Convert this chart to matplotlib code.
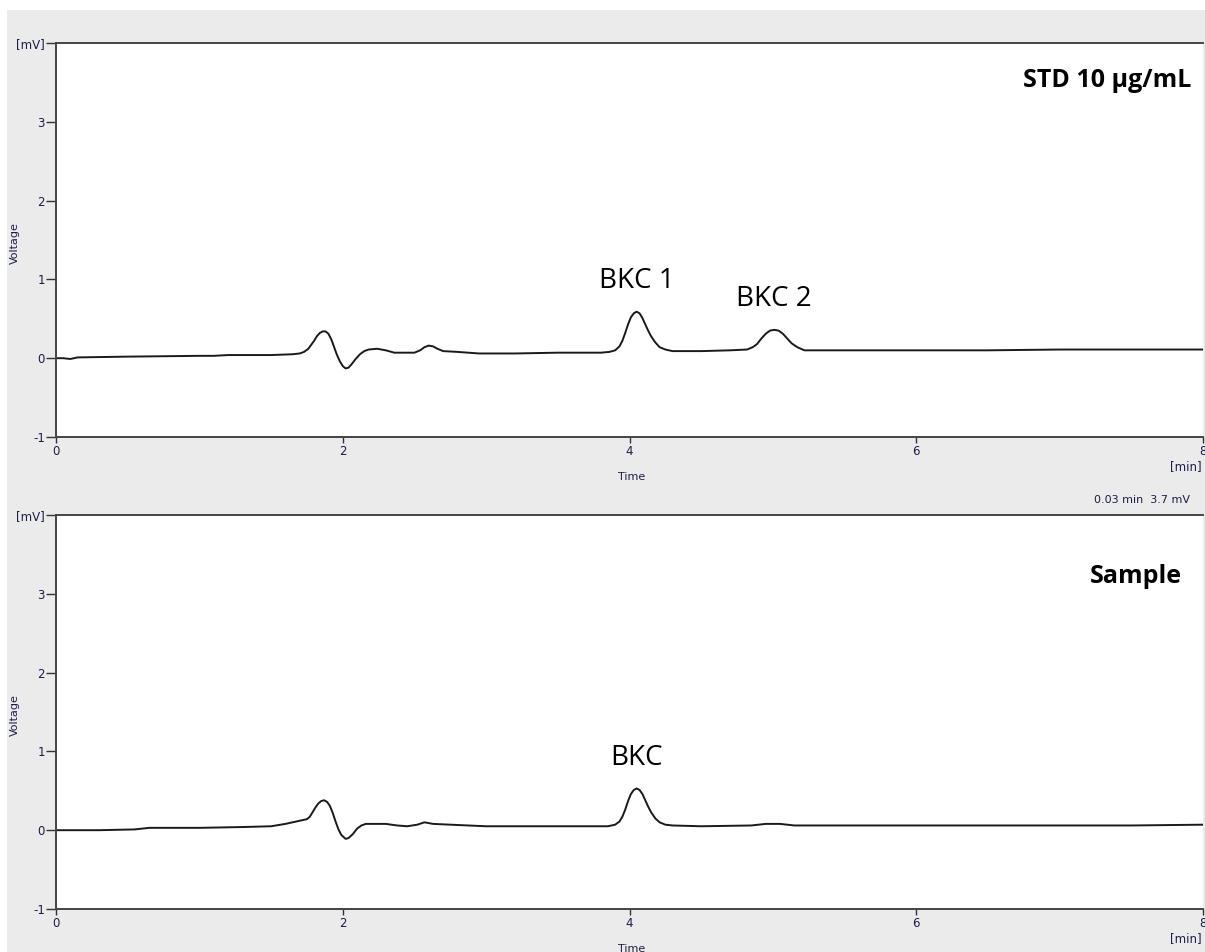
import matplotlib
matplotlib.use("Agg")
import matplotlib.pyplot as plt
from matplotlib.patches import Rectangle

# chromatogram traces, time [min] and voltage [mV]
std_time = [0.00, 0.05, 0.10, 0.15, 0.50, 1.00, 1.10, 1.20, 1.50, 1.65, 1.70, 1.73,
            1.76, 1.78, 1.80, 1.82, 1.84, 1.86, 1.88, 1.90, 1.92, 1.94, 1.96, 1.98,
            2.00, 2.02, 2.04, 2.06, 2.09, 2.12, 2.15, 2.18, 2.24, 2.30, 2.36, 2.42,
            2.50, 2.54, 2.57, 2.60, 2.63, 2.66, 2.70, 2.80, 2.95, 3.20, 3.50, 3.80,
            3.86, 3.90, 3.93, 3.95, 3.97, 3.99, 4.01, 4.03, 4.05, 4.07, 4.09, 4.11,
            4.13, 4.15, 4.18, 4.21, 4.25, 4.30, 4.50, 4.70, 4.82, 4.86, 4.89, 4.92,
            4.95, 4.98, 5.01, 5.04, 5.07, 5.10, 5.13, 5.17, 5.22, 5.50, 6.00, 6.50,
            7.00, 7.50, 8.00]
std_mv = [0.00, 0.00, -0.01, 0.01, 0.02, 0.03, 0.03, 0.04, 0.04, 0.05, 0.06, 0.08,
          0.12, 0.17, 0.22, 0.28, 0.32, 0.34, 0.34, 0.31, 0.24, 0.14, 0.04, -0.04,
          -0.10, -0.13, -0.12, -0.08, -0.01, 0.05, 0.09, 0.11, 0.12, 0.10, 0.07, 0.07,
          0.07, 0.10, 0.14, 0.16, 0.15, 0.12, 0.09, 0.08, 0.06, 0.06, 0.07, 0.07,
          0.08, 0.10, 0.15, 0.22, 0.32, 0.43, 0.52, 0.57, 0.59, 0.57, 0.51, 0.43,
          0.35, 0.28, 0.20, 0.14, 0.11, 0.09, 0.09, 0.10, 0.11, 0.14, 0.18, 0.25,
          0.31, 0.35, 0.36, 0.35, 0.31, 0.25, 0.19, 0.14, 0.10, 0.10, 0.10, 0.10,
          0.11, 0.11, 0.11]

smp_time = [0.00, 0.30, 0.55, 0.65, 1.00, 1.30, 1.50, 1.60, 1.70, 1.75, 1.77, 1.79,
            1.81, 1.83, 1.85, 1.87, 1.89, 1.91, 1.93, 1.95, 1.97, 1.99, 2.02, 2.04,
            2.07, 2.10, 2.13, 2.16, 2.30, 2.38, 2.45, 2.52, 2.57, 2.63, 2.75, 3.00,
            3.50, 3.85, 3.90, 3.93, 3.95, 3.97, 3.99, 4.01, 4.03, 4.05, 4.07, 4.09,
            4.11, 4.13, 4.15, 4.18, 4.21, 4.25, 4.30, 4.50, 4.85, 4.95, 5.05, 5.15,
            5.50, 6.00, 6.50, 7.00, 7.50, 8.00]
smp_mv = [0.00, 0.00, 0.01, 0.03, 0.03, 0.04, 0.05, 0.08, 0.12, 0.14, 0.17, 0.23,
          0.29, 0.34, 0.37, 0.38, 0.36, 0.31, 0.22, 0.11, 0.01, -0.06, -0.11, -0.10,
          -0.05, 0.02, 0.06, 0.08, 0.08, 0.06, 0.05, 0.07, 0.10, 0.08, 0.07, 0.05,
          0.05, 0.05, 0.07, 0.11, 0.17, 0.26, 0.37, 0.46, 0.51, 0.53, 0.51, 0.46,
          0.38, 0.30, 0.23, 0.15, 0.10, 0.07, 0.06, 0.05, 0.06, 0.08, 0.08, 0.06,
          0.06, 0.06, 0.06, 0.06, 0.06, 0.07]

x_ticks = [0, 2, 4, 6, 8]
y_ticks = [-1, 0, 1, 2, 3, 4]
y_ticklabels = ["-1", "0", "1", "2", "3", "[mV]"]

# peak labels: (text, time, voltage)
std_peaks = [("BKC 1", 4.05, 0.59), ("BKC 2", 5.01, 0.36)]
smp_peaks = [("BKC", 4.05, 0.53)]

label_col = "#1c1c48"
plt.rcParams['font.family'] = ['Open Sans', 'DejaVu Sans']

fig = plt.figure(figsize=(12.05, 9.52), dpi=100)
fig.patch.set_facecolor("white")
fig.patches.append(Rectangle((7 / 1205, 0), 1, 1 - 10 / 952, transform=fig.transFigure,
                             facecolor="#ebebeb", edgecolor="none", zorder=-10))

ax1 = fig.add_axes([56 / 1205, 1 - 437 / 952, 1147 / 1205, 394 / 952])
ax2 = fig.add_axes([56 / 1205, 1 - 909 / 952, 1147 / 1205, 394 / 952])


def setup(ax, t, v, title, peaks, tx, ty, top_px):
    ax.set_facecolor("white")
    ax.plot(t, v, color="#1a1a1a", lw=1.4)
    ax.set_xlim(0, 8)
    ax.set_ylim(-1, 4)
    ax.set_xticks(x_ticks)
    ax.set_yticks(y_ticks)
    ax.set_yticklabels(y_ticklabels)
    ax.tick_params(axis="both", direction="out", width=1, colors="#333333",
                   labelcolor=label_col, labelsize=8.5)
    ax.tick_params(axis="x", length=4, pad=2)
    ax.tick_params(axis="y", length=7, pad=1)
    for s in ax.spines.values():
        s.set_color("#444444")
        s.set_linewidth(1.4)
    ax.spines["right"].set_visible(False)
    for lab in ax.get_xticklabels() + ax.get_yticklabels():
        lab.set_family("DejaVu Sans")
    # axis captions sit at fixed spots in the grey frame
    fig.text(15 / 1205, 1 - (top_px + 200) / 952, "Voltage", rotation=90,
             ha="center", va="center", fontsize=8, color=label_col, family="DejaVu Sans")
    fig.text(632 / 1205, 1 - (top_px + 434) / 952, "Time", ha="center", va="center",
             fontsize=8, color=label_col, family="DejaVu Sans")
    fig.text(1202 / 1205, 1 - (top_px + 424) / 952, "[min]", ha="right", va="center",
             fontsize=8.5, color=label_col, family="DejaVu Sans")
    ax.text(tx, ty, title, transform=ax.transAxes, ha="right", va="center",
            fontsize=18, fontweight="bold", color="black")
    for name, pt, pv in peaks:
        ax.annotate(name, (pt, pv), xytext=(0, 12), textcoords="offset points",
                    ha="center", va="bottom", fontsize=20, color="black")


setup(ax1, std_time, std_mv, "STD 10 µg/mL", std_peaks, 0.990, 0.905, 43)
setup(ax2, smp_time, smp_mv, "Sample", smp_peaks, 0.982, 0.845, 515)

fig.text(1190 / 1205, 1 - 500 / 952, "0.03 min  3.7 mV", ha="right", va="center",
         fontsize=8, color=label_col, family="DejaVu Sans")

fig.savefig("out.png", dpi=100)
